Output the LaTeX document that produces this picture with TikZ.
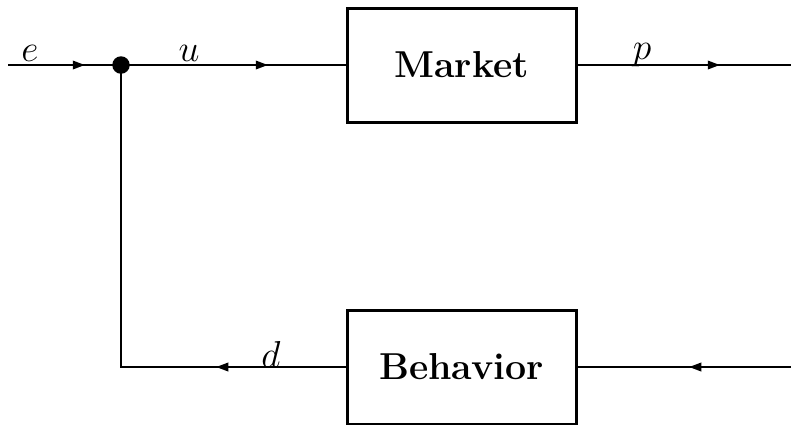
\documentclass[tikz,border=0pt]{standalone}
\usetikzlibrary{arrows.meta}
\begin{document}
\begin{tikzpicture}[x=0.32pt,y=-0.32pt,
  wire/.style={line width=0.66pt},
  tip/.style={wire,-{Triangle[length=3.9pt,width=2.7pt]},shorten >=-0.3pt},
  block/.style={draw,line width=0.96pt,minimum width=229*0.32pt,minimum height=114*0.32pt,inner sep=0pt,font=\large\bfseries},
  lbl/.style={inner sep=0pt,font=\large}]
\useasboundingbox (0,0) rectangle (791,424);
\node[block] (market) at (461.5,65) {Market};
\node[block] (behavior) at (461.5,367) {Behavior};
\coordinate (ein) at (8,65);
\coordinate (pout) at (791,65);
\coordinate (bin) at (791,367);
\coordinate (corner) at (121,367);
\coordinate (ea) at (84,65);
\coordinate (ua) at (267,65);
\coordinate (pa) at (719,65);
\coordinate (ba) at (690,367);
\coordinate (da) at (217,367);
\node[circle,fill,inner sep=0pt,minimum size=5.6pt] (sum) at (121,65) {};
% connectors
\draw[wire] (ein) -- (sum.center);
\draw[wire] (sum.center) -- (market.west);
\draw[wire] (market.east) -- (pout);
\draw[wire] (bin) -- (behavior.east);
\draw[wire] (behavior.west) -- (corner) -- (sum.center);
% arrow tips along the connectors
\draw[tip] (ein) -- (ea);
\draw[tip] (sum.center) -- (ua);
\draw[tip] (market.east) -- (pa);
\draw[tip] (bin) -- (ba);
\draw[tip] (behavior.west) -- (da);
\node[lbl] (le) at (30,53) {$e$};
\node[lbl] (lu) at (189,53) {$u$};
\node[lbl] (lp) at (642,55) {$p$};
\node[lbl] (ld) at (271,354) {$d$};
\end{tikzpicture}
\end{document}
